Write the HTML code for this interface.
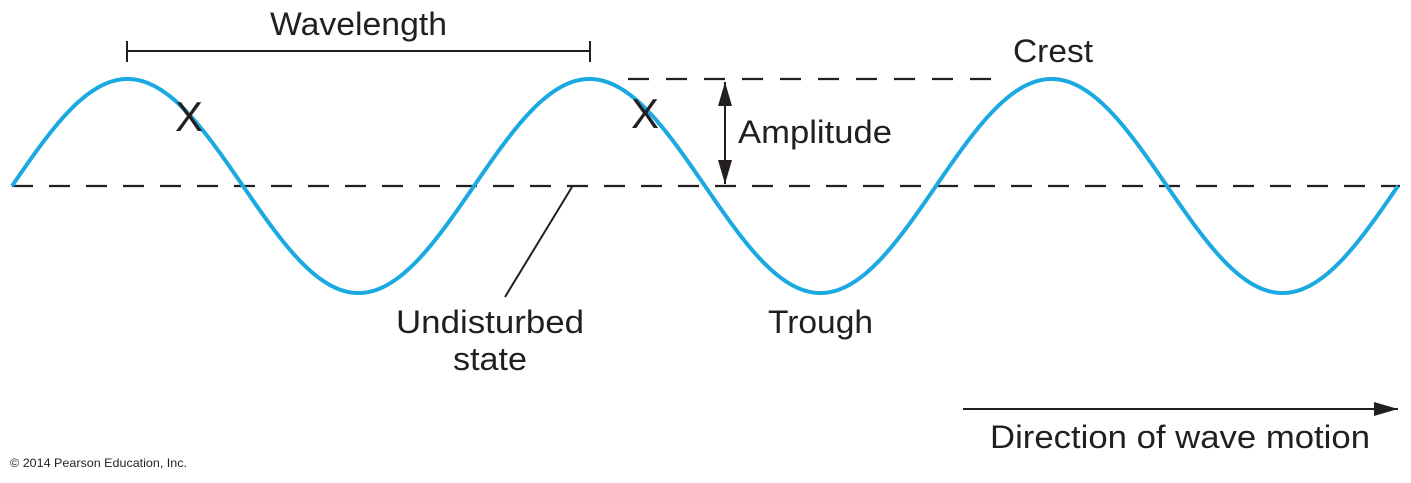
<!DOCTYPE html>
<html><head><meta charset="utf-8"><style>
html,body{margin:0;padding:0;background:#fff;}
svg{display:block;}
text{font-family:"Liberation Sans",Arial,sans-serif;fill:#231f20;}
</style></head><body>
<svg id="s" width="1411" height="483" viewBox="0 0 1411 483" xmlns="http://www.w3.org/2000/svg">
<defs>
<marker id="ah2" viewBox="0 0 10 10" refX="10" refY="5" markerWidth="24" markerHeight="14" markerUnits="userSpaceOnUse" orient="auto-start-reverse" preserveAspectRatio="none"><path d="M0,0 L10,5 L0,10 z" fill="#231f20"/></marker>
</defs>
<line x1="12" y1="186" x2="1400" y2="186" stroke="#231f20" stroke-width="2.2" stroke-dasharray="21 16"/>
<line x1="628" y1="79" x2="1002" y2="79" stroke="#231f20" stroke-width="2.2" stroke-dasharray="21 17"/>
<path id="wave" d="" fill="none" stroke="#1ba9e1" stroke-width="4"/>
<line x1="127" y1="51" x2="590" y2="51" stroke="#231f20" stroke-width="2"/>
<line x1="127" y1="41" x2="127" y2="62" stroke="#231f20" stroke-width="2"/>
<line x1="590" y1="41" x2="590" y2="62" stroke="#231f20" stroke-width="2"/>
<line x1="725" y1="82" x2="725" y2="184" stroke="#231f20" stroke-width="2" marker-start="url(#ah2)" marker-end="url(#ah2)"/>
<line x1="572" y1="187" x2="505" y2="297" stroke="#231f20" stroke-width="2"/>
<line x1="963" y1="409" x2="1398" y2="409" stroke="#231f20" stroke-width="2" marker-end="url(#ah2)"/>
<text x="270" y="35" font-size="32" textLength="177" lengthAdjust="spacingAndGlyphs">Wavelength</text>
<text x="1013" y="62" font-size="32" textLength="80" lengthAdjust="spacingAndGlyphs">Crest</text>
<text x="738" y="143" font-size="32" textLength="154" lengthAdjust="spacingAndGlyphs">Amplitude</text>
<text x="396" y="333" font-size="32" textLength="188" lengthAdjust="spacingAndGlyphs">Undisturbed</text>
<text x="453" y="370" font-size="32" textLength="74" lengthAdjust="spacingAndGlyphs">state</text>
<text x="768" y="333" font-size="32" textLength="105" lengthAdjust="spacingAndGlyphs">Trough</text>
<text x="990" y="448" font-size="32" textLength="380" lengthAdjust="spacingAndGlyphs">Direction of wave motion</text>
<text x="175" y="131" font-size="42">X</text>
<text x="631" y="128" font-size="42">X</text>
<text x="10" y="467" font-size="12" textLength="177" lengthAdjust="spacingAndGlyphs">© 2014 Pearson Education, Inc.</text>
</svg>
<script>
var d="";for(var x=12;x<=1398;x+=2){var y=186-107*Math.sin((x-12)/462*2*Math.PI);d+=(x==12?"M":"L")+x+","+y.toFixed(2);}
document.getElementById("wave").setAttribute("d",d);
</script>
</body></html>
